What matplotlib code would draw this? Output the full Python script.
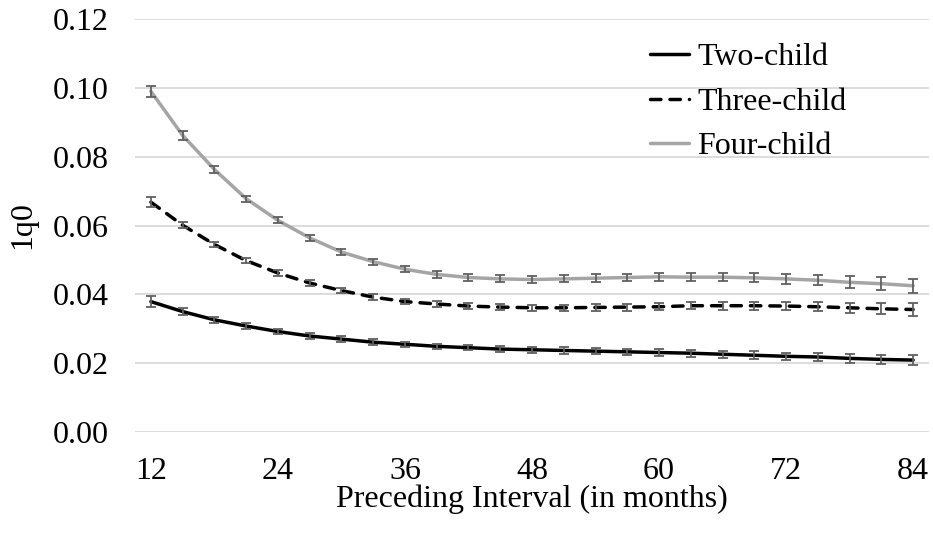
import numpy as np
import matplotlib
matplotlib.use('Agg')
import matplotlib.pyplot as plt

# Preceding birth interval (months) and 1q0 estimates with error margins
months = list(range(12, 85, 3))

two_child = [0.0379, 0.0350, 0.0326, 0.0308, 0.0292, 0.0279, 0.0270, 0.0261,
             0.0255, 0.0249, 0.0245, 0.0241, 0.0239, 0.0237, 0.0235, 0.0233,
             0.0231, 0.0229, 0.0226, 0.0223, 0.0220, 0.0218, 0.0214, 0.0211, 0.0209]
two_err = [0.0017, 0.0010, 0.0008, 0.0008, 0.0008, 0.0008, 0.0008, 0.0008,
           0.0008, 0.0008, 0.0008, 0.0008, 0.0008, 0.0009, 0.0009, 0.0009,
           0.0009, 0.0010, 0.0010, 0.0011, 0.0011, 0.0012, 0.0012, 0.0013, 0.0015]

three_child = [0.0668, 0.0601, 0.0545, 0.0498, 0.0462, 0.0433, 0.0411, 0.0392,
               0.0379, 0.0372, 0.0366, 0.0363, 0.0361, 0.0361, 0.0362, 0.0363,
               0.0364, 0.0367, 0.0367, 0.0367, 0.0366, 0.0364, 0.0361, 0.0358, 0.0356]
three_err = [0.0015, 0.0008, 0.0008, 0.0008, 0.0008, 0.0008, 0.0008, 0.0008,
             0.0008, 0.0008, 0.0008, 0.0008, 0.0009, 0.0009, 0.0009, 0.0010,
             0.0010, 0.0010, 0.0011, 0.0011, 0.0012, 0.0013, 0.0014, 0.0016, 0.0018]

four_child = [0.0990, 0.0862, 0.0763, 0.0678, 0.0615, 0.0564, 0.0523, 0.0495,
              0.0473, 0.0458, 0.0449, 0.0445, 0.0443, 0.0445, 0.0447, 0.0449,
              0.0451, 0.0450, 0.0450, 0.0448, 0.0445, 0.0441, 0.0435, 0.0431, 0.0425]
four_err = [0.0016, 0.0012, 0.0010, 0.0009, 0.0009, 0.0009, 0.0009, 0.0009,
            0.0009, 0.0009, 0.0010, 0.0010, 0.0010, 0.0010, 0.0011, 0.0011,
            0.0012, 0.0012, 0.0012, 0.0013, 0.0014, 0.0015, 0.0017, 0.0019, 0.0021]

series = [
    ('Two-child', two_child, two_err, 'black', '-'),
    ('Three-child', three_child, three_err, 'black', (0, (3.0, 2.6))),
    ('Four-child', four_child, four_err, '#a5a5a5', '-'),
]

plt.rcParams['font.family'] = 'Liberation Serif'
FS = 23

fig = plt.figure(figsize=(9.33, 5.37), dpi=100)
ax = fig.add_axes([0.1447, 0.1955, 0.851, 0.769])

for label, vals, errs, color, ls in series:
    ax.plot(months, vals, color=color, linestyle=ls, linewidth=2.5,
            label=label, zorder=3, solid_capstyle='round', dash_capstyle='round')
    ax.errorbar(months, vals, yerr=errs, fmt='none', ecolor='#606060',
                elinewidth=1.3, capsize=3.5, capthick=1.3, zorder=4)

ax.set_xlim(10.5, 85.5)
ax.set_ylim(0, 0.12)
ax.set_xticks(range(12, 85, 12))
ax.set_yticks(np.arange(0, 0.121, 0.02))
ax.yaxis.set_major_formatter(matplotlib.ticker.FormatStrFormatter('%.2f'))
ax.tick_params(length=0, labelsize=FS)
ax.tick_params(axis='y', pad=19)
ax.tick_params(axis='x', pad=18)
ax.grid(axis='y', color='#d9d9d9', linewidth=1.3)
ax.set_axisbelow(True)
for side in ['top', 'right', 'left', 'bottom']:
    ax.spines[side].set_visible(False)

ax.set_xlabel('Preceding Interval (in months)', fontsize=FS, labelpad=-1)
ax.set_ylabel('1q0', fontsize=FS, labelpad=11)

ax.legend(loc='upper left', bbox_to_anchor=(650 / 933, 1 - 43 / 537),
          bbox_transform=fig.transFigure, frameon=False, fontsize=FS,
          handlelength=1.22, handletextpad=0.25, labelspacing=0.47,
          borderaxespad=0, borderpad=0)

fig.savefig('out.png', dpi=100)
